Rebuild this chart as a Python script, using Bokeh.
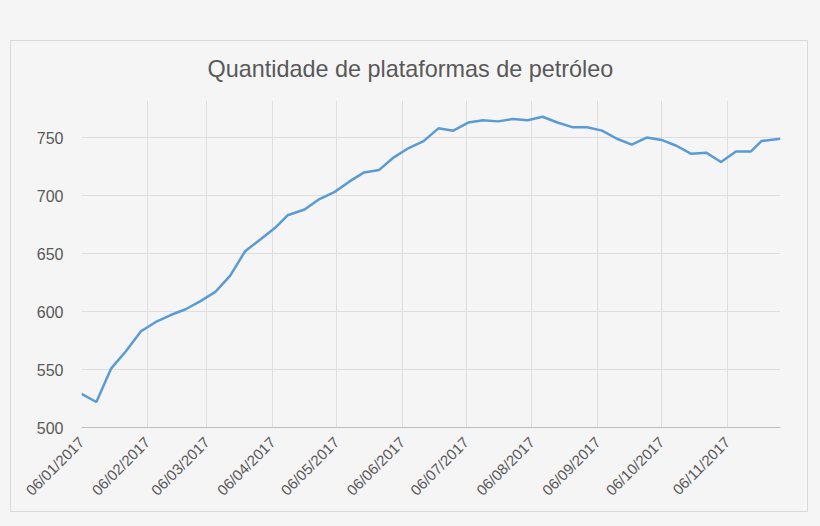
from datetime import datetime

from bokeh.plotting import figure
from bokeh.models import (DatetimeTickFormatter, FixedTicker,
                          GlobalInlineStyleSheet, Range1d)
from bokeh.embed import file_html
from bokeh.resources import INLINE

# weekly oil rig count, 2017
dates = [
    "2017-01-06", "2017-01-13", "2017-01-20", "2017-01-27",
    "2017-02-03", "2017-02-10", "2017-02-17", "2017-02-24",
    "2017-03-03", "2017-03-10", "2017-03-17", "2017-03-24", "2017-03-31",
    "2017-04-07", "2017-04-13", "2017-04-21", "2017-04-28",
    "2017-05-05", "2017-05-12", "2017-05-19", "2017-05-26",
    "2017-06-02", "2017-06-09", "2017-06-16", "2017-06-23", "2017-06-30",
    "2017-07-07", "2017-07-14", "2017-07-21", "2017-07-28",
    "2017-08-04", "2017-08-11", "2017-08-18", "2017-08-25",
    "2017-09-01", "2017-09-08", "2017-09-15", "2017-09-22", "2017-09-29",
    "2017-10-06", "2017-10-13", "2017-10-20", "2017-10-27",
    "2017-11-03", "2017-11-10", "2017-11-17", "2017-11-22", "2017-12-01",
]
rigs = [
    529, 522, 551, 566,
    583, 591, 597, 602,
    609, 617, 631, 652, 662,
    672, 683, 688, 697,
    703, 712, 720, 722,
    733, 741, 747, 758, 756,
    763, 765, 764, 766,
    765, 768, 763, 759,
    759, 756, 749, 744, 750,
    748, 743, 736, 737,
    729, 738, 738, 747, 749,
]

x_ticks = ["2017-01-06", "2017-02-06", "2017-03-06", "2017-04-06",
           "2017-05-06", "2017-06-06", "2017-07-06", "2017-08-06",
           "2017-09-06", "2017-10-06", "2017-11-06"]
y_ticks = [500, 550, 600, 650, 700, 750]

x = [datetime.strptime(d, "%Y-%m-%d") for d in dates]
tick_ms = [datetime.strptime(d, "%Y-%m-%d").timestamp() * 1000 for d in x_ticks]

grey = "#595959"
font = "Liberation Sans"

p = figure(
    title="Quantidade de plataformas de petróleo",
    x_axis_type="datetime",
    width=820, height=526,
    output_backend="svg", toolbar_location=None,
    x_range=Range1d(x[0], x[-1]),
    y_range=Range1d(500, 782),
    min_border_left=81, min_border_right=40,
    min_border_top=100, min_border_bottom=99,
)
# page background and the light frame round the chart area
css = """
body { background: #f5f5f5; }
body::after {
  content: ""; position: fixed; left: 10px; top: 40px;
  width: 798px; height: 472px; box-sizing: border-box;
  border: 1.5px solid #d9d9d9; pointer-events: none;
}
"""
p.stylesheets = [GlobalInlineStyleSheet(css=css)]

p.background_fill_color = "#f5f5f5"
p.border_fill_color = "#f5f5f5"
p.outline_line_color = None

p.title.align = "left"
p.title.offset = 126
p.title.text_font = font
p.title.text_font_size = "23.4px"
p.title.text_font_style = "normal"
p.title.text_color = grey
p.title.standoff = 38

p.line(x, rigs, line_width=2.5, color="#5b9bd5")

p.xaxis.ticker = FixedTicker(ticks=tick_ms)
fmt = "%d/%m/%Y"
p.xaxis.formatter = DatetimeTickFormatter(
    microseconds=fmt, milliseconds=fmt, seconds=fmt, minsec=fmt, minutes=fmt,
    hourmin=fmt, hours=fmt, days=fmt, months=fmt, years=fmt)
p.xaxis.major_label_orientation = 0.785
p.yaxis.ticker = FixedTicker(ticks=y_ticks)

for ax in (p.xaxis, p.yaxis):
    ax.major_tick_line_color = None
    ax.minor_tick_line_color = None
    ax.major_label_text_font = font
    ax.major_label_text_color = grey
p.xaxis.major_label_text_font_size = "15px"
p.yaxis.major_label_text_font_size = "16px"
p.xaxis.axis_line_color = "#bfbfbf"
p.xaxis.major_label_standoff = 6
p.yaxis.axis_line_color = None
p.yaxis.major_label_standoff = 12

p.xgrid.grid_line_color = "#dedede"
p.ygrid.grid_line_color = "#dedede"

open("out.html", "w").write(file_html(p, INLINE))
